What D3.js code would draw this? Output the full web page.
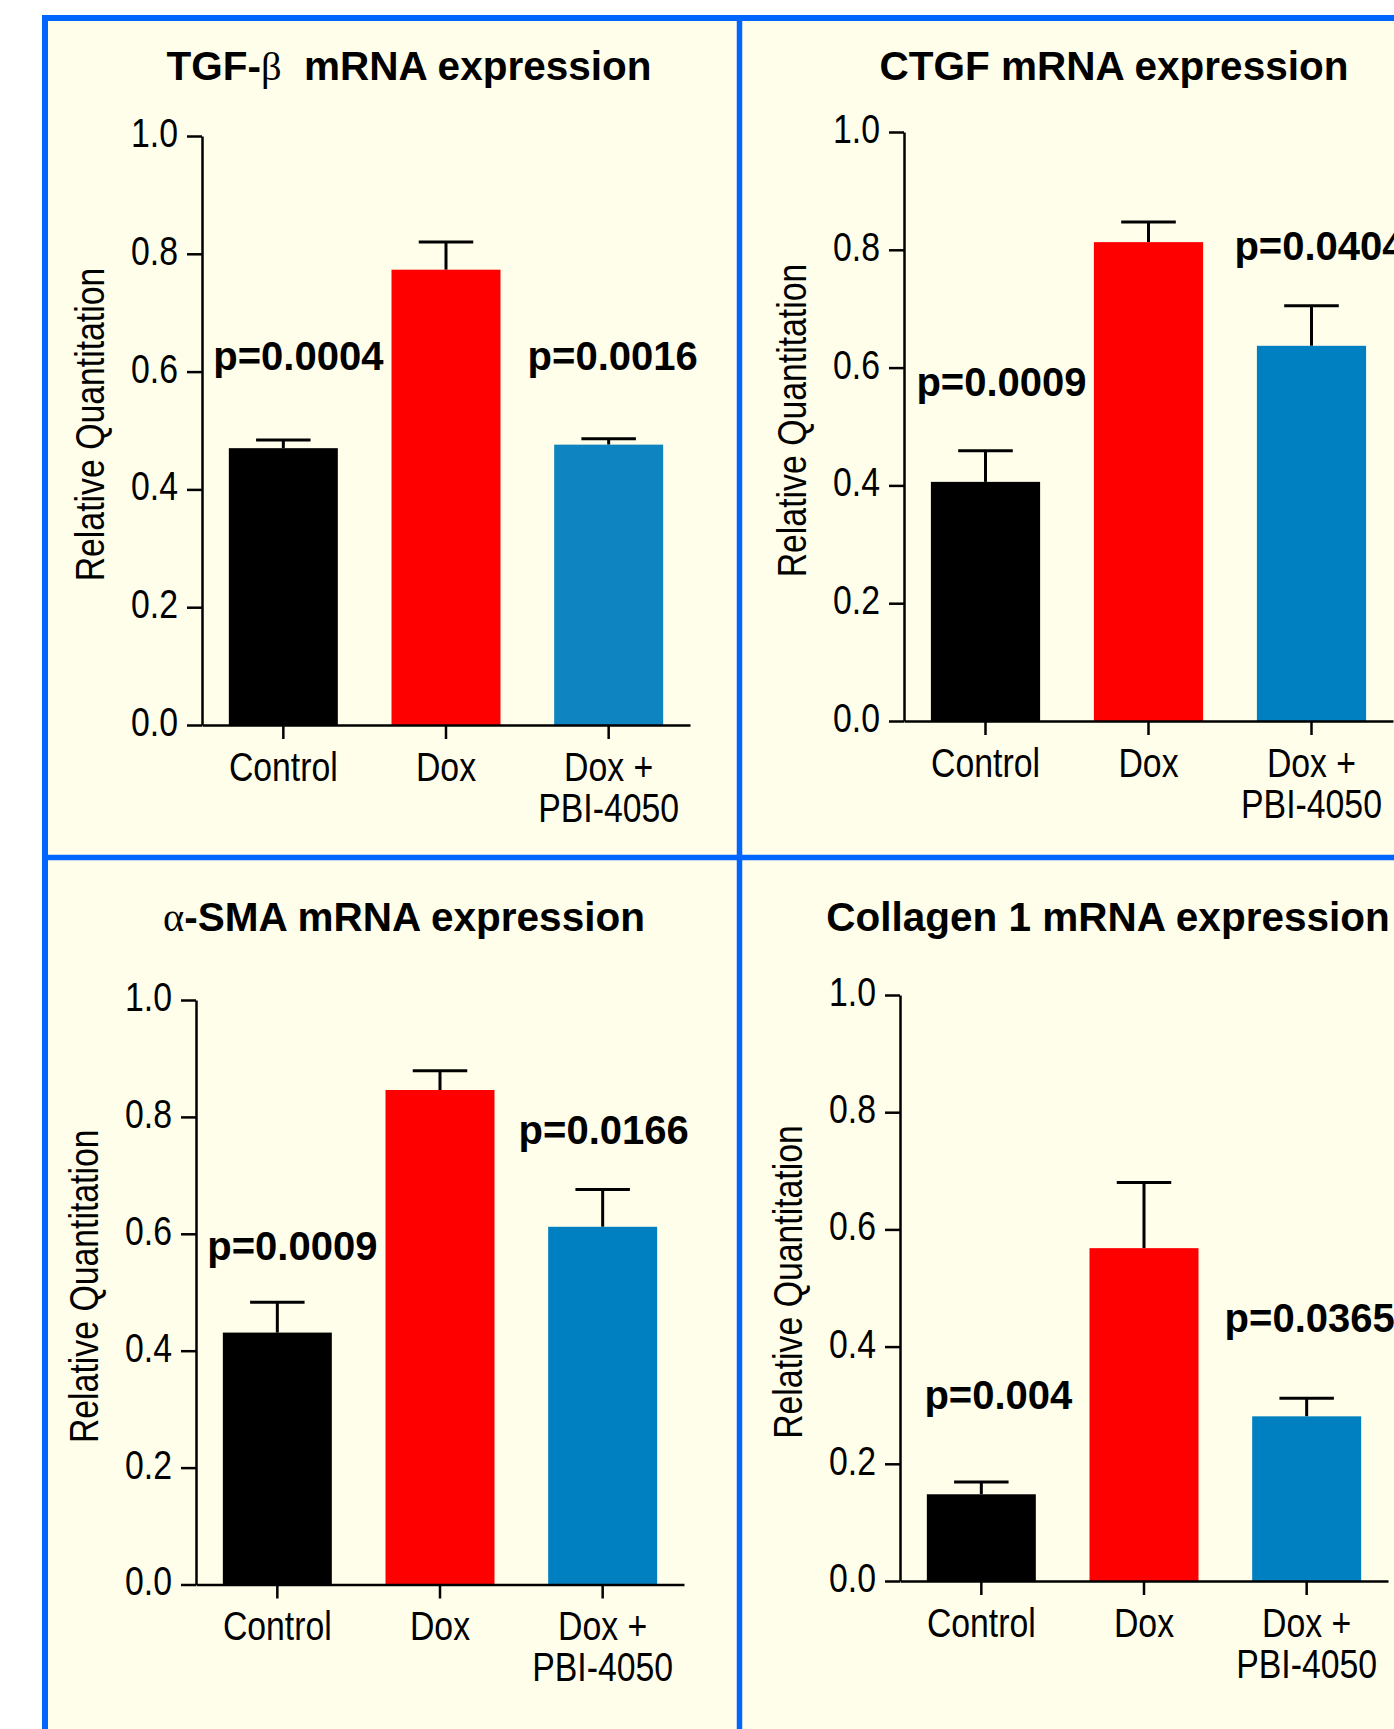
<!DOCTYPE html>
<html>
<head>
<meta charset="utf-8">
<script src="https://cdn.jsdelivr.net/npm/d3@7"></script>
<style>
  body { margin: 0; background: #fff; }
  svg { display: block; }
  .axis text { font-family: "Liberation Sans", Arial, sans-serif; font-size: 40px; fill: #000; }
  .axis path, .axis line { stroke: #000; stroke-width: 2.5px; }
  .ylabel { font-family: "Liberation Sans", Arial, sans-serif; font-size: 40px; }
  .title { font-family: "Liberation Sans", Arial, sans-serif; font-weight: bold; font-size: 40.5px; }
  .greek { font-family: "Liberation Serif", "DejaVu Serif", serif; font-weight: normal; }
  .pval { font-family: "Liberation Sans", Arial, sans-serif; font-weight: bold; font-size: 40px; }
</style>
</head>
<body>
<svg width="1394" height="1729"></svg>
<script>
// data
const groups = ["Control", "Dox", "Dox +\nPBI-4050"];
const yTicks = [0, 0.2, 0.4, 0.6, 0.8, 1.0];
const titles = ["TGF-β  mRNA expression", "CTGF mRNA expression", "α-SMA mRNA expression", "Collagen 1 mRNA expression"];

const tgfMean = [0.470, 0.773, 0.476];
const tgfSem = [0.014, 0.047, 0.010];
const ctgfMean = [0.406, 0.813, 0.637];
const ctgfSem = [0.053, 0.034, 0.068];
const smaMean = [0.431, 0.846, 0.612];
const smaSem = [0.052, 0.033, 0.064];
const colMean = [0.148, 0.568, 0.281];
const colSem = [0.021, 0.112, 0.031];

const pTgf = ["p=0.0004", "p=0.0016"];
const pCtgf = ["p=0.0009", "p=0.0404"];
const pSma = ["p=0.0009", "p=0.0166"];
const pCol = ["p=0.004", "p=0.0365"];

const panels = [
  { title: titles[0], mean: tgfMean, sem: tgfSem, p: pTgf },
  { title: titles[1], mean: ctgfMean, sem: ctgfSem, p: pCtgf },
  { title: titles[2], mean: smaMean, sem: smaSem, p: pSma },
  { title: titles[3], mean: colMean, sem: colSem, p: pCol }
];

// layout of each panel (pixels), p labels: [x offset from band centre, y in data units]
const layouts = [
  { x0: 202, x1: 690, yTop: 136, yZero: 725, titleX: 409, titleY: 80, pPos: [[15, 0.603], [4, 0.603]], blue: "#0e84c0" },
  { x0: 904, x1: 1393, yTop: 132, yZero: 721, titleX: 1114, titleY: 80, pPos: [[16, 0.552], [8, 0.782]], blue: "#0080c0" },
  { x0: 196, x1: 684, yTop: 1000, yZero: 1584.5, titleX: 404, titleY: 931, pPos: [[15, 0.555], [1, 0.754]], blue: "#0080c0" },
  { x0: 900, x1: 1388, yTop: 995, yZero: 1581, titleX: 1108, titleY: 931, pPos: [[17, 0.293], [3, 0.425]], blue: "#0080c0" }
];

const narrow = 0.845; // axis text in the figure is a condensed sans
const svg = d3.select("svg");
const frameBlue = "#0066ff";

// frame
svg.append("rect")
  .attr("x", 45).attr("y", 18)
  .attr("width", 1500).attr("height", 1900)
  .attr("fill", "#fffeea")
  .attr("stroke", frameBlue).attr("stroke-width", 6);
svg.append("line")
  .attr("x1", 739.5).attr("y1", 18).attr("x2", 739.5).attr("y2", 1729)
  .attr("stroke", frameBlue).attr("stroke-width", 5.5);
svg.append("line")
  .attr("x1", 45).attr("y1", 857.5).attr("x2", 1394).attr("y2", 857.5)
  .attr("stroke", frameBlue).attr("stroke-width", 5.5);

panels.forEach((panel, i) => {
  const L = layouts[i];
  const g = svg.append("g");
  const colors = ["#000000", "#ff0000", L.blue];

  const x = d3.scaleBand().domain(groups).range([L.x0, L.x1])
    .paddingInner(0.33).paddingOuter(0.165);
  const y = d3.scaleLinear().domain([0, 1]).range([L.yZero, L.yTop]);

  // error bars (upper only), drawn first so bar covers the stem
  const err = g.append("g").attr("stroke", "#000").attr("stroke-width", 3);
  groups.forEach((d, j) => {
    const cx = x(d) + x.bandwidth() / 2;
    const top = y(panel.mean[j] + panel.sem[j]);
    err.append("line").attr("x1", cx).attr("x2", cx)
      .attr("y1", y(panel.mean[j])).attr("y2", top);
    err.append("line").attr("x1", cx - x.bandwidth() / 4).attr("x2", cx + x.bandwidth() / 4)
      .attr("y1", top).attr("y2", top);
  });

  g.append("g").selectAll("rect")
    .data(groups).enter()
    .append("rect")
    .attr("x", d => x(d))
    .attr("y", (d, j) => y(panel.mean[j]))
    .attr("width", x.bandwidth())
    .attr("height", (d, j) => y(0) - y(panel.mean[j]))
    .attr("fill", (d, j) => colors[j]);

  // axes
  const yAxis = g.append("g").attr("class", "axis")
    .attr("transform", `translate(${L.x0},0)`)
    .call(d3.axisLeft(y).tickValues(yTicks).tickFormat(d3.format(".1f"))
      .tickSize(15).tickPadding(9).tickSizeOuter(0));
  yAxis.selectAll("text")
    .attr("dy", "0.26em")
    .attr("x", -24 / narrow)
    .attr("transform", `scale(${narrow},1)`);

  const xAxis = g.append("g").attr("class", "axis")
    .attr("transform", `translate(0,${L.yZero})`)
    .call(d3.axisBottom(x).tickSize(14).tickSizeOuter(0));
  xAxis.selectAll("text").each(function(d) {
    const t = d3.select(this).text("").attr("y", 56).attr("dy", null)
      .attr("transform", `scale(${narrow},1)`);
    d.split("\n").forEach((line, k) => {
      t.append("tspan").attr("x", 0).attr("y", 56 + k * 41).text(line);
    });
  });

  // y label
  g.append("text").attr("class", "ylabel")
    .attr("transform", `translate(${L.x0 - 98},${(L.yTop + L.yZero) / 2 - 6}) rotate(-90) scale(${narrow},1)`)
    .attr("text-anchor", "middle")
    .text("Relative Quantitation");

  // title, greek letters in a thin serif
  const title = g.append("text").attr("class", "title")
    .attr("x", L.titleX).attr("y", L.titleY)
    .attr("text-anchor", "middle");
  panel.title.split(/([α-ω])/).forEach(part => {
    if (!part) return;
    title.append("tspan")
      .attr("class", /[α-ω]/.test(part) ? "greek" : null)
      .attr("xml:space", "preserve")
      .text(part);
  });

  // p values over Control and Dox + PBI-4050
  [0, 2].forEach((j, k) => {
    g.append("text").attr("class", "pval")
      .attr("x", x(groups[j]) + x.bandwidth() / 2 + L.pPos[k][0])
      .attr("y", y(L.pPos[k][1]))
      .attr("text-anchor", "middle")
      .text(panel.p[k]);
  });
});
</script>
</body>
</html>
